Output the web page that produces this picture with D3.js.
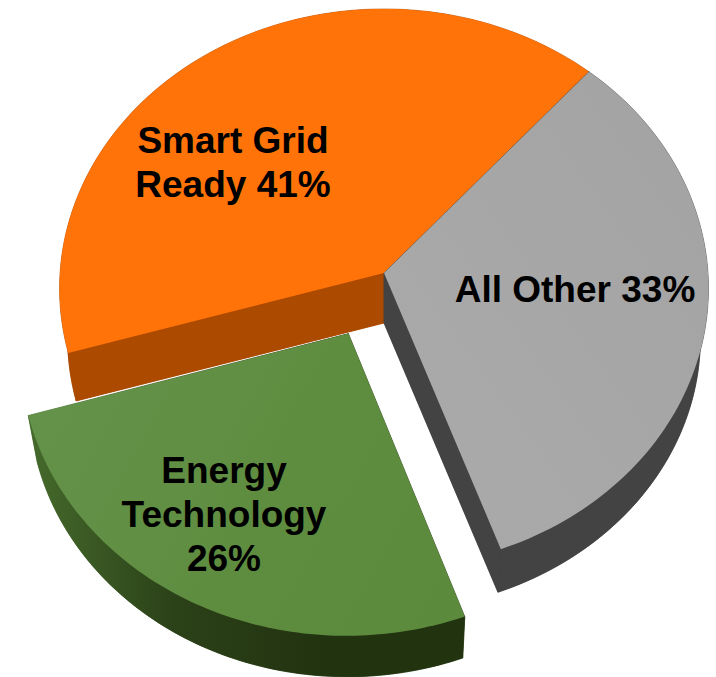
<!DOCTYPE html>
<html lang="en">
<head>
    <meta charset="UTF-8">
    <title>Smart Grid share</title>
    <style>
        html, body { margin: 0; padding: 0; background: #fff; }
        svg { display: block; }
        text { font-family: "Liberation Sans", Arial, sans-serif; font-weight: bold; fill: #000; }
    </style>
</head>
<body>
    <div id="chart"></div>

    <script src="https://d3js.org/d3.v7.min.js"></script>
    <script>
        // clockwise from the orange/grey boundary
        const categories = ['All Other', 'Energy Technology', 'Smart Grid Ready']
        const values = [33, 26, 41]
        const labelLines = [
            ['All Other 33%'],
            ['Energy', 'Technology', '26%'],
            ['Smart Grid', 'Ready 41%']
        ]

        const width = 716
        const height = 677
        const cx = 384
        const cy = 273
        const radius = 324
        const tilt = 0.86          // squash of the pie plane
        const persp = 0.00017      // near edge drawn larger than far edge
        const depth = 50           // thickness on screen
        const bottomScale = 0.975  // lower face is further from the camera
        const startAngle = 41.2 * Math.PI / 180

        const topColors = ['url(#greyTop)', 'url(#greenTop)', '#ff7308']
        const sideColors = ['#434343', 'url(#greenSide)', '#ac4a00']
        const exploded = [0, 78, 0]
        const labelPos = [[575, 302], [224, 483], [233, 153]]
        const lineHeight = 44
        const fontSize = 37

        const svg = d3.select('#chart')
            .append('svg')
            .attr('width', width)
            .attr('height', height)

        const defs = svg.append('defs')
        addGradient('greyTop', 60, 560, 700, 100, ['#a3a3a3', '#a9a9a9', '#a3a3a3'])
        addGradient('greenTop', 30, 400, 470, 640, ['#64924a', '#5f8d40', '#5c8a3c'])
        addGradient('greenSide', 30, 0, 465, 0, ['#456a2c', '#2b4118', '#223310', '#223310'])

        function addGradient(id, x1, y1, x2, y2, stops) {
            const g = defs.append('linearGradient')
                .attr('id', id)
                .attr('gradientUnits', 'userSpaceOnUse')
                .attr('x1', x1).attr('y1', y1)
                .attr('x2', x2).attr('y2', y2)
            stops.forEach((c, i) => {
                g.append('stop')
                    .attr('offset', i / (stops.length - 1))
                    .attr('stop-color', c)
            })
        }

        // pie plane point -> screen, lower = true gives the underside
        function project(a, r, off, lower) {
            const mid = off.mid
            const X = r * Math.sin(a) + off.d * Math.sin(mid)
            const Y = -r * Math.cos(a) - off.d * Math.cos(mid)
            const w = 1 - persp * Y
            const s = lower ? bottomScale : 1
            return [
                cx + s * X / w,
                cy + s * tilt * Y / w + (lower ? depth : 0)
            ]
        }

        const pie = d3.pie()
            .sort(null)
            .startAngle(startAngle)
            .endAngle(startAngle + 2 * Math.PI)

        const slices = pie(values)
        const line = d3.line()

        function arcAngles(d) {
            const n = 90
            return d3.range(n + 1).map(i => d.startAngle + (d.endAngle - d.startAngle) * i / n)
        }

        // draw back to front: orange, grey, green
        const drawOrder = [2, 0, 1]

        drawOrder.forEach(i => {
            const d = slices[i]
            const off = { d: exploded[i], mid: (d.startAngle + d.endAngle) / 2 }
            const angles = arcAngles(d)
            const g = svg.append('g').attr('class', 'slice')

            const topRim = angles.map(a => project(a, radius, off, false))
            const lowRim = angles.map(a => project(a, radius, off, true))
            const topApex = project(0, 0, off, false)
            const lowApex = project(0, 0, off, true)

            // underside, outer wall, cut faces
            const sides = [
                [lowApex, ...lowRim],
                [...topRim, ...lowRim.slice().reverse()],
                [topApex, topRim[0], lowRim[0], lowApex],
                [topApex, topRim[topRim.length - 1], lowRim[lowRim.length - 1], lowApex]
            ]
            g.selectAll('path.side')
                .data(sides)
                .enter()
                .append('path')
                .attr('class', 'side')
                .attr('d', p => line(p) + 'Z')
                .attr('fill', sideColors[i])
                .attr('stroke', sideColors[i])
                .attr('stroke-width', 0.5)

            g.append('path')
                .attr('class', 'top')
                .attr('d', line([topApex, ...topRim]) + 'Z')
                .attr('fill', topColors[i])
        })

        // labels
        labelLines.forEach((lines, i) => {
            svg.append('text')
                .attr('text-anchor', 'middle')
                .style('font-size', fontSize + 'px')
                .selectAll('tspan')
                .data(lines)
                .enter()
                .append('tspan')
                .attr('x', labelPos[i][0])
                .attr('y', (t, j) => labelPos[i][1] + j * lineHeight)
                .text(t => t)
        })
    </script>
</body>
</html>
